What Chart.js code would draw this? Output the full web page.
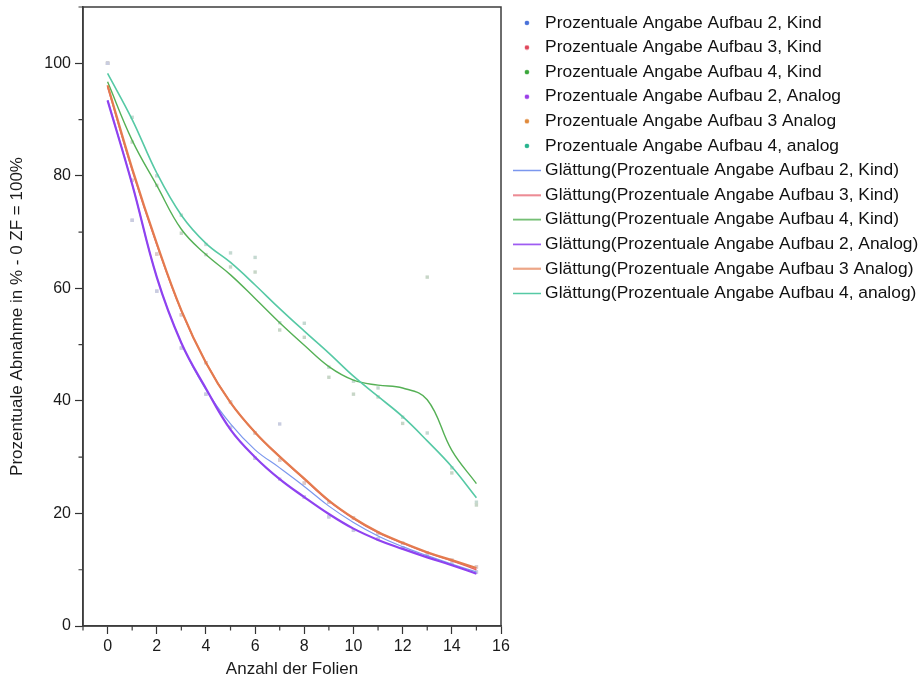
<!DOCTYPE html>
<html><head><meta charset="utf-8">
<script src="https://cdn.jsdelivr.net/npm/chart.js@4/dist/chart.umd.min.js"></script>
<style>html,body{margin:0;padding:0;background:#fff}#w{width:922px;height:679px;position:relative}</style>
</head><body><div id="w"><canvas id="c" width="922" height="679"></canvas></div>
<script>
// ---- data ----
const folien = [0, 1, 2, 3, 4, 5, 6, 7, 8, 9, 10, 11, 12, 13, 14, 15];

const seriesLabels = [
  'Prozentuale Angabe Aufbau 2, Kind',
  'Prozentuale Angabe Aufbau 3, Kind',
  'Prozentuale Angabe Aufbau 4, Kind',
  'Prozentuale Angabe Aufbau 2, Analog',
  'Prozentuale Angabe Aufbau 3 Analog',
  'Prozentuale Angabe Aufbau 4, analog'
];
const smoothLabels = [
  'Glättung(Prozentuale Angabe Aufbau 2, Kind)',
  'Glättung(Prozentuale Angabe Aufbau 3, Kind)',
  'Glättung(Prozentuale Angabe Aufbau 4, Kind)',
  'Glättung(Prozentuale Angabe Aufbau 2, Analog)',
  'Glättung(Prozentuale Angabe Aufbau 3 Analog)',
  'Glättung(Prozentuale Angabe Aufbau 4, analog)'
];

// measured points
const pktA2Kind   = [100, 72.1, 59.5, 49.4, 41.2, 35.3, 29.8, 35.9, 22.9, 19.4, 17.0, 15.5, 13.9, 12.5, 11.1, 9.6];
const pktA3Kind   = [100, 79.2, 66.1, 55.3, 46.8, 39.8, 34.3, 29.5, 25.4, 22.0, 19.2, 16.5, 14.7, 13.0, 11.7, 10.5];
const pktA4Kind   = [100, 86.0, 78.3, 69.8, 66.0, 63.8, 62.9, 52.6, 51.3, 44.2, 41.2, 40.7, 36.0, 62.0, 27.2, 21.5];
const pktA2Analog = [100, 72.1, 59.5, 49.4, 41.2, 35.3, 29.8, 26.1, 22.9, 19.4, 17.0, 15.5, 13.9, 12.5, 11.1, 9.6];
const pktA3Analog = [100, 79.2, 66.1, 55.3, 46.8, 39.8, 34.3, 29.5, 25.4, 22.0, 19.2, 16.5, 14.7, 13.0, 11.7, 10.5];
const pktA4Analog = [100, 90.4, 80.0, 73.0, 67.8, 66.3, 65.5, 53.9, 53.8, 46.0, 43.5, 42.3, 37.1, 34.3, 28.1, 22.0];

// smoothed (Glättung) curves
const glA2Kind   = [93.4, 78.5, 62.0, 50.3, 42.0, 35.9, 31.3, 28.1, 24.8, 21.3, 18.4, 16.0, 14.1, 12.5, 11.0, 9.6];
const glA3Kind   = [95.8, 81.0, 67.8, 56.0, 46.8, 39.7, 34.4, 30.1, 26.1, 22.2, 19.1, 16.6, 14.7, 13.0, 11.6, 10.0];
const glA4Kind   = [96.7, 86.3, 78.3, 70.5, 66.0, 62.4, 58.2, 53.9, 49.9, 46.1, 43.7, 42.8, 42.3, 40.2, 31.2, 25.3];
const glA2Analog = [93.4, 78.5, 62.0, 50.3, 42.2, 34.9, 30.0, 26.1, 22.9, 19.9, 17.3, 15.3, 13.7, 12.2, 10.8, 9.3];
const glA3Analog = [96.1, 81.3, 68.0, 56.1, 46.8, 39.7, 34.4, 30.1, 26.2, 22.3, 19.2, 16.7, 14.8, 13.1, 11.7, 10.3];
const glA4Analog = [98.2, 90.0, 80.5, 73.0, 68.0, 64.6, 60.6, 56.4, 52.4, 48.5, 44.4, 40.8, 37.2, 32.9, 28.3, 22.8];

const xTickLabels = [0, 2, 4, 6, 8, 10, 12, 14, 16];
const yTickLabels = [0, 20, 40, 60, 80, 100];

// ---- styles ----
const dotColors   = ['#4a72d9', '#e0485c', '#3ba73b', '#9b3ee8', '#e08a3c', '#28b48e'];
const pointColors = ['#c9cde0', '#dccaca', '#c7d6c7', '#d3c9e3', '#dcd0c6', '#c5d9d1'];
const lineColors  = ['#7b97ee', '#e55f6b', '#55b055', '#8f42f0', '#e47b4e', '#56c9a5'];
const lineWidths  = [1.2, 1.5, 1.4, 2.2, 2.2, 1.6];
const lineOrder   = [6, 5, 4, 2, 1, 3];

const pts = [pktA2Kind, pktA3Kind, pktA4Kind, pktA2Analog, pktA3Analog, pktA4Analog];
const gls = [glA2Kind, glA3Kind, glA4Kind, glA2Analog, glA3Analog, glA4Analog];
const toXY = arr => arr.map((v, i) => ({x: folien[i], y: v}));

const datasets = [];
pts.forEach((arr, i) => datasets.push({
  label: seriesLabels[i], data: toXY(arr), showLine: false,
  pointStyle: 'rect', pointRadius: 2.4, pointBorderWidth: 0,
  pointBackgroundColor: pointColors[i], backgroundColor: pointColors[i], borderColor: pointColors[i],
  order: 20
}));
gls.forEach((arr, i) => datasets.push({
  label: smoothLabels[i], data: toXY(arr), showLine: true,
  pointRadius: 0, borderColor: lineColors[i], backgroundColor: lineColors[i],
  borderWidth: lineWidths[i], tension: 0.4, fill: false,
  order: lineOrder[i]
}));

function makeIcon(kind, color) {
  const c = document.createElement('canvas');
  if (kind === 'dot') {
    c.width = 6; c.height = 6;
    const g = c.getContext('2d');
    g.fillStyle = color; g.beginPath(); g.arc(3, 3, 2.3, 0, Math.PI * 2); g.fill();
  } else {
    c.width = 28; c.height = 3;
    const g = c.getContext('2d');
    g.fillStyle = color; g.fillRect(0, 0.75, 28, 1.5);
  }
  return c;
}
const icons = [];
dotColors.forEach(c => icons.push(makeIcon('dot', c)));
lineColors.forEach(c => icons.push(makeIcon('line', c)));

const FONT = "'Liberation Sans', Arial, sans-serif";
Chart.defaults.font.family = FONT;
Chart.defaults.color = '#1a1a1a';

const frame = {
  id: 'frame',
  beforeLayout(chart) {
    const lg = chart.legend;
    if (lg && !lg._wrapped) {
      const f = lg.fit.bind(lg);
      lg.fit = function () { f(); this.width = 421; };
      lg._wrapped = true;
    }
  },
  afterLayout(chart) {
    const lg = chart.legend;
    if (lg) { lg.left += 9.2; lg.right += 9.2; }
  },
  afterDraw(chart) {
    const {ctx, chartArea: a, scales: {x, y}} = chart;
    ctx.save();
    ctx.strokeStyle = '#3c3c3c';
    ctx.lineWidth = 1.5;
    ctx.strokeRect(a.left, a.top, a.right - a.left, a.bottom - a.top);
    ctx.lineWidth = 1.2;
    ctx.beginPath();
    for (let v = -1; v <= 15; v += 2) {
      const px = x.getPixelForValue(v);
      ctx.moveTo(px, a.bottom); ctx.lineTo(px, a.bottom + 4.5);
    }
    for (let v = 10; v <= 110; v += 20) {
      const py = y.getPixelForValue(v);
      ctx.moveTo(a.left, py); ctx.lineTo(a.left - 4.5, py);
    }
    ctx.stroke();
    ctx.restore();
  }
};

new Chart(document.getElementById('c'), {
  type: 'line',
  data: {datasets},
  plugins: [frame],
  options: {
    responsive: false,
    animation: false,
    layout: {padding: {top: 7, left: 0, right: 0, bottom: 0}},
    plugins: {
      tooltip: {enabled: false},
      legend: {
        position: 'right', align: 'start',
        labels: {
          usePointStyle: true, pointStyleWidth: 19, padding: 7.2,
          color: '#111', font: {size: 17.4, family: FONT},
          generateLabels: (chart) => chart.data.datasets.map((ds, i) => ({
            text: ds.label, pointStyle: icons[i], datasetIndex: i, hidden: false,
            lineWidth: 0, fillStyle: 'rgba(0,0,0,0)', strokeStyle: 'rgba(0,0,0,0)', fontColor: '#111'
          }))
        }
      }
    },
    scales: {
      x: {
        type: 'linear', min: -1, max: 16,
        afterFit: s => { s.height = 53; s.paddingLeft = 0; s.paddingRight = 0; },
        ticks: {
          stepSize: 1, autoSkip: false, maxRotation: 0, padding: 3,
          font: {size: 16}, color: '#1a1a1a',
          callback: v => xTickLabels.includes(v) ? String(v) : ''
        },
        grid: {
          drawOnChartArea: false, tickLength: 8, tickWidth: 1.2,
          tickColor: c => (c.tick && xTickLabels.includes(c.tick.value)) ? '#333' : 'rgba(0,0,0,0)'
        },
        border: {display: true, color: '#3c3c3c', width: 1.5},
        title: {display: true, text: 'Anzahl der Folien', font: {size: 17, lineHeight: 1.1}, color: '#1a1a1a', padding: {top: 0, bottom: 0}}
      },
      y: {
        type: 'linear', min: 0, max: 110,
        afterFit: s => { s.width = 83; s.paddingTop = 0; s.paddingBottom = 0; },
        ticks: {
          stepSize: 10, autoSkip: false, padding: 4,
          font: {size: 16}, color: '#1a1a1a',
          callback: v => yTickLabels.includes(v) ? String(v) : ''
        },
        grid: {
          drawOnChartArea: false, tickLength: 8, tickWidth: 1.2,
          tickColor: c => (c.tick && yTickLabels.includes(c.tick.value)) ? '#333' : 'rgba(0,0,0,0)'
        },
        border: {display: true, color: '#3c3c3c', width: 1.5},
        title: {display: true, text: 'Prozentuale Abnahme in % - 0 ZF = 100%', font: {size: 17, lineHeight: 1.1}, color: '#1a1a1a', padding: {top: 8, bottom: 0}}
      }
    }
  }
});
</script>
</body></html>
